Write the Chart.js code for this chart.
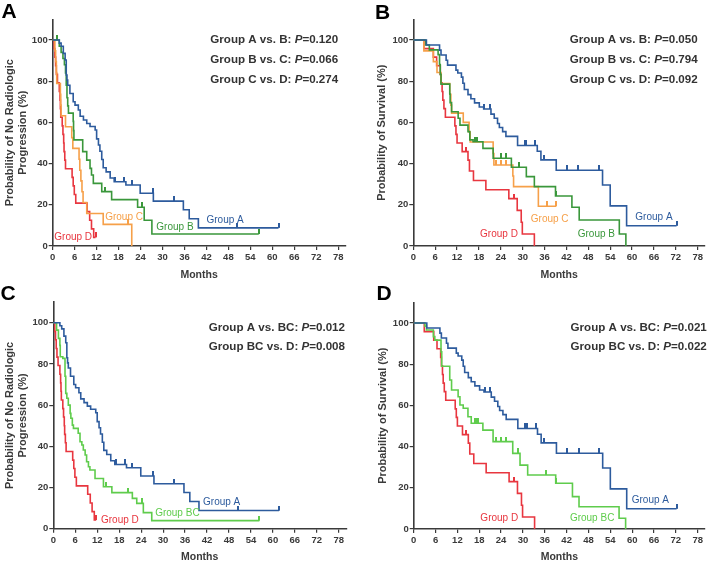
<!DOCTYPE html>
<html>
<head>
<meta charset="utf-8">
<script src="https://cdn.jsdelivr.net/npm/chart.js@4.4.1/dist/chart.umd.min.js"></script>
<style>
  html,body{margin:0;padding:0;background:#fff;}
  #wrap{position:relative;width:709px;height:563px;overflow:hidden;background:#fff;}
  canvas{position:absolute;}
  .lbl{position:absolute;font-family:"Liberation Sans",Arial,sans-serif;font-weight:bold;font-size:21px;line-height:21px;color:#000;}
</style>
</head>
<body>
<div id="wrap">
  <canvas id="cA" width="354" height="281" style="left:0;top:0"></canvas>
  <canvas id="cB" width="355" height="281" style="left:354px;top:0"></canvas>
  <canvas id="cC" width="354" height="282" style="left:0;top:281px"></canvas>
  <canvas id="cD" width="355" height="282" style="left:354px;top:281px"></canvas>
  <div class="lbl" style="left:1.5px;top:0">A</div>
  <div class="lbl" style="left:375px;top:1px">B</div>
  <div class="lbl" style="left:0.5px;top:282px">C</div>
  <div class="lbl" style="left:376.5px;top:282px">D</div>
</div>
<script>
// ---------- axis ticks ----------
const X_TICKS = [0, 6, 12, 18, 24, 30, 36, 42, 48, 54, 60, 66, 72, 78];
const Y_TICKS = [0, 20, 40, 60, 80, 100];

// ---------- progression-free (panels A, C) ----------
const pfsA_t = [0, 1.8, 2.3, 2.9, 3.4, 3.7, 3.9, 4.1, 4.7, 5.6, 6.1, 7.0, 7.5, 8.4, 9.3, 10.2, 11.6, 12.0, 12.5, 12.9, 13.4, 13.8, 14.6, 15.7, 16.8, 20.0, 23.9, 27.5, 35.7, 37.3, 39.8, 61.7];
const pfsA_s = [100, 98.5, 97, 93.5, 90.3, 83, 80.5, 78, 74, 70, 68.4, 66, 63, 61.2, 59.5, 58, 56.3, 52, 49, 46, 42, 38, 36, 33, 31.2, 29.6, 25.6, 21.8, 17.6, 13.2, 8.8, 8.8];
const pfsA_c = [17.0, 19.5, 21.6, 27.3, 33.1, 50.4, 61.7];

const pfsB_t = [0, 1.8, 2.3, 2.8, 3.2, 3.5, 3.7, 3.9, 4.1, 4.3, 5.6, 5.7, 5.8, 8.2, 9.3, 10.2, 10.6, 11.1, 13.4, 16.1, 23.2, 25.0, 27.1, 56.3];
const pfsB_s = [100, 97, 94, 91, 88, 84, 78, 72, 68, 64.5, 60.5, 56, 51.5, 45.8, 41.7, 37.7, 34.5, 30.4, 26.4, 22.5, 18.8, 12.5, 5.8, 5.8];
const pfsB_c = [1.2, 14.3, 24.3, 56.3];

const pfsC_t = [0, 0.6, 0.8, 1.0, 1.1, 2.1, 2.2, 2.3, 3.5, 5.2, 5.5, 7.2, 7.4, 7.7, 8.0, 8.3, 9.3, 13.8, 21.6];
const pfsC_s = [100, 94.7, 89.5, 84.2, 78.9, 73.7, 68.4, 63.2, 57.9, 52.6, 47.4, 42.1, 36.8, 31.6, 26.3, 21.1, 15.8, 10.5, 0];
const pfsC_c = [20.6];

const pfsD_t = [0, 0.4, 0.6, 0.8, 1.0, 1.3, 1.8, 2.0, 2.1, 2.2, 2.6, 2.8, 3.0, 3.1, 3.3, 3.5, 5.3, 5.6, 5.9, 6.3, 9.4, 10.1, 10.6, 11.2, 11.7];
const pfsD_s = [100, 95.8, 91.7, 87.5, 83.3, 79.2, 75, 70.8, 66.7, 62.5, 58.3, 54.2, 50, 45.8, 41.7, 37.5, 33.3, 29.2, 25, 20.8, 16.7, 12.5, 8.3, 4.2, 4.2];
const pfsD_c = [11.7];

const pfsBC_t = [0, 0.9, 1.4, 1.8, 1.9, 2.6, 3.2, 3.4, 3.7, 4.1, 4.6, 4.8, 5.2, 5.5, 6.8, 7.3, 7.8, 8.2, 8.7, 9.1, 9.6, 10.0, 11.4, 13.7, 16.0, 21.6, 22.8, 24.6, 26.9, 56.3];
const pfsBC_s = [100, 96.4, 92.4, 89, 83.5, 82.7, 74, 65.7, 63.3, 60, 56, 53.6, 50.3, 48.7, 46.3, 42.2, 40.6, 38.2, 35.8, 32.5, 30.1, 28.5, 24.4, 20.4, 17.5, 14.7, 12.3, 7.8, 3.9, 3.9];
const pfsBC_c = [14.4, 20.5, 24.1, 56.3];

// ---------- overall survival (panels B, D) ----------
const osA_t = [0, 3.6, 7.2, 7.6, 9.0, 9.4, 11.7, 12.2, 13.2, 13.6, 14.0, 15.0, 15.8, 16.8, 18.1, 19.3, 21.3, 22.2, 23.1, 23.6, 24.5, 25.4, 28.6, 34.0, 35.0, 39.2, 51.9, 54.0, 58.5, 72.2];
const osA_s = [100, 97.6, 95.1, 92.7, 90.2, 87.8, 85.4, 84, 82, 79, 76, 73.5, 71.5, 69.5, 67.5, 66.5, 64, 62, 59.5, 57.5, 55.5, 53.2, 48.8, 46, 41.8, 36.8, 29.6, 19.5, 9.8, 9.8];
const osA_c = [19.5, 20.9, 30.5, 31.0, 33.5, 35.8, 42.2, 45.3, 51.0, 72.2];

const osB_t = [0, 3.4, 4.4, 6.8, 7.2, 7.4, 7.6, 10.0, 10.1, 10.5, 12.3, 12.8, 15.0, 15.5, 16.4, 19.1, 21.9, 26.9, 31.0, 33.2, 39.0, 43.5, 45.5, 56.5, 58.3];
const osB_s = [100, 97.6, 95.2, 92.9, 88.1, 83.3, 78.6, 73.8, 69.6, 65.2, 62, 58.7, 55.5, 51.5, 50.6, 47.4, 42.6, 38.2, 33.7, 28.8, 24.3, 18.8, 12.6, 5.8, 0];
const osB_c = [16.9, 17.4, 24.1, 25.5, 29.1, 39.0];

const osC_t = [0, 2.9, 5.5, 6.5, 7.6, 10.0, 10.3, 10.5, 13.7, 15.3, 15.6, 21.9, 22.1, 27.3, 27.5, 34.3, 39.2];
const osC_s = [100, 94.7, 89.5, 84.2, 78.9, 73.7, 68.4, 64.5, 60, 55.3, 50.5, 44.9, 39.3, 34, 28.8, 19.3, 19.3];
const osC_c = [22.8, 24.1, 25.5, 36.8, 39.2];

const osD_t = [0, 2.9, 5.5, 6.4, 7.4, 7.6, 7.9, 8.1, 8.4, 8.8, 11.4, 11.7, 12.0, 13.4, 15.0, 15.4, 16.5, 19.9, 26.2, 28.5, 29.6, 29.9, 33.2];
const osD_s = [100, 95.8, 91.7, 87.5, 83.3, 79.2, 75, 70.8, 66.7, 62.5, 58.3, 54.2, 50, 45.8, 41.7, 36.4, 31.8, 27.3, 23, 17.3, 11.5, 5.8, 0];
const osD_c = [14.5, 27.5];

const osBC_t = [0, 3.1, 3.5, 5.4, 5.8, 7.5, 7.7, 9.9, 10.4, 12.2, 12.7, 13.6, 14.9, 15.8, 19.0, 21.8, 27.2, 29.2, 31.3, 39.0, 43.6, 45.4, 56.4, 58.2];
const osBC_s = [100, 98.5, 96.6, 93.4, 91.7, 86, 79, 72.3, 67.5, 64.2, 60.2, 58.6, 54.5, 51.3, 48, 42.4, 36.7, 31, 26.2, 22.2, 15.7, 10.8, 5.2, 0];
const osBC_c = [16.8, 17.3, 17.7, 22.7, 24.1, 25.4, 28.6, 36.3, 39.0];

// ---------- comparisons ----------
const cmp4 = ['Group A vs. B: ', 'Group B vs. C: ', 'Group C vs. D: '];
const cmp3 = ['Group A vs. BC: ', 'Group BC vs. D: '];
const pA = ['=0.120', '=0.066', '=0.274'];
const pB = ['=0.050', '=0.794', '=0.092'];
const pC = ['=0.012', '=0.008'];
const pD = ['=0.021', '=0.022'];

// ---------- styles ----------
const BLUE = '#2d5b9d', GREEN = '#3a973b', ORANGE = '#f6a049', RED = '#e8363f', LIME = '#5fcc4c';
const AXC = '#3a3a3a';
const FF = '"Liberation Sans", Arial, Helvetica, sans-serif';

function stepAt(t, s, c) {
  let v = s[0];
  for (let i = 0; i < t.length; i++) if (t[i] <= c + 1e-9) v = s[i];
  return v;
}
function tickImg(color) {
  const c = document.createElement('canvas');
  c.width = 2; c.height = 10;
  const g = c.getContext('2d');
  g.fillStyle = color; g.fillRect(0, 0, 2, 5);
  return c;
}
function curveSets(t, s, cens, color) {
  return [
    { data: t.map((x, i) => ({ x: x, y: s[i] })), borderColor: color, borderWidth: 1.6,
      stepped: 'before', pointRadius: 0, fill: false, clip: false },
    { data: cens.map(c => ({ x: c, y: stepAt(t, s, c) })), showLine: false, borderWidth: 0,
      pointStyle: tickImg(color), pointRadius: 3, backgroundColor: color, borderColor: color, clip: false }
  ];
}
function textPlugin(groups, notes) {
  return {
    id: 'kmText',
    afterDraw(chart) {
      const { ctx } = chart; const x = chart.scales.x, y = chart.scales.y;
      ctx.save();
      ctx.textBaseline = 'middle';
      groups.forEach(g => {
        ctx.font = '10px ' + FF; ctx.fillStyle = g.color; ctx.textAlign = 'center';
        ctx.fillText(g.text, x.getPixelForValue(g.x), y.getPixelForValue(g.y));
      });
      notes.forEach(n => {
        const fN = 'bold 11.6px ' + FF, fI = 'italic bold 11.6px ' + FF;
        ctx.font = fN; const w1 = ctx.measureText(n.a).width, w3 = ctx.measureText(n.c).width;
        ctx.font = fI; const w2 = ctx.measureText('P').width;
        let px = x.getPixelForValue(n.x) - (w1 + w2 + w3);
        const py = y.getPixelForValue(n.y);
        ctx.textAlign = 'left'; ctx.fillStyle = '#333';
        ctx.font = fN; ctx.fillText(n.a, px, py); px += w1;
        ctx.font = fI; ctx.fillText('P', px, py); px += w2;
        ctx.font = fN; ctx.fillText(n.c, px, py);
      });
      ctx.restore();
    }
  };
}
function makeChart(id, geo, datasets, groups, notes, yTitle) {
  const tickFont = { family: FF, size: 9.5, weight: 'bold' };
  new Chart(document.getElementById(id), {
    type: 'line',
    data: { datasets: datasets },
    options: {
      responsive: false, animation: false, devicePixelRatio: 1,
      layout: { padding: { left: 0, top: geo.top, right: geo.right, bottom: 0 } },
      plugins: { legend: { display: false }, tooltip: { enabled: false } },
      scales: {
        x: {
          type: 'linear', min: 0, max: 80,
          afterBuildTicks: s => { s.ticks = X_TICKS.map(v => ({ value: v })); },
          afterFit: s => { s.height = geo.xh; },
          ticks: { font: tickFont, color: AXC, padding: 2, maxRotation: 0, autoSkip: false },
          grid: { drawOnChartArea: false, drawTicks: true, tickLength: 4, color: AXC, lineWidth: 1.2 },
          border: { display: true, color: AXC, width: 1.6 },
          title: { display: true, text: 'Months', color: AXC, font: { family: FF, size: 10.5, weight: 'bold' }, padding: { top: 0, bottom: 0 } }
        },
        y: {
          type: 'linear', min: 0, max: 110,
          afterBuildTicks: s => { s.ticks = Y_TICKS.map(v => ({ value: v })); },
          afterFit: s => { s.width = geo.yw; },
          ticks: { font: tickFont, color: AXC, padding: 1 },
          grid: { drawOnChartArea: false, drawTicks: true, tickLength: 4, color: AXC, lineWidth: 1.2 },
          border: { display: true, color: AXC, width: 1.6 },
          title: { display: true, text: yTitle, color: AXC, font: { family: FF, size: 11, weight: 'bold' }, padding: { top: geo.tp, bottom: 0 } }
        }
      }
    },
    plugins: [textPlugin(groups, notes)]
  });
}

const titlePFS = ['Probability of No Radiologic', 'Progression (%)'];
const titleOS = 'Probability of Survival (%)';

// Panel A
makeChart('cA', { top: 19.4, right: 8.5, xh: 35, yw: 52.7, tp: 3 },
  [].concat(curveSets(pfsA_t, pfsA_s, pfsA_c, BLUE), curveSets(pfsB_t, pfsB_s, pfsB_c, GREEN),
            curveSets(pfsC_t, pfsC_s, pfsC_c, ORANGE), curveSets(pfsD_t, pfsD_s, pfsD_c, RED)),
  [{ text: 'Group A', x: 47.1, y: 12.6, color: BLUE }, { text: 'Group B', x: 33.4, y: 9.2, color: GREEN },
   { text: 'Group C', x: 19.5, y: 14.1, color: ORANGE }, { text: 'Group D', x: 5.6, y: 4.4, color: RED }],
  cmp4.map((c, i) => ({ a: c, c: pA[i], x: 78, y: [99.9, 90.3, 80.6][i] })), titlePFS);

// Panel B
makeChart('cB', { top: 19.4, right: 2.9, xh: 35, yw: 59.3, tp: 21.1 },
  [].concat(curveSets(osA_t, osA_s, osA_c, BLUE), curveSets(osB_t, osB_s, osB_c, GREEN),
            curveSets(osC_t, osC_s, osC_c, ORANGE), curveSets(osD_t, osD_s, osD_c, RED)),
  [{ text: 'Group A', x: 66, y: 14.1, color: BLUE }, { text: 'Group C', x: 37.4, y: 13.1, color: ORANGE },
   { text: 'Group B', x: 50.2, y: 5.6, color: GREEN }, { text: 'Group D', x: 23.5, y: 5.6, color: RED }],
  cmp4.map((c, i) => ({ a: c, c: pB[i], x: 78, y: [99.9, 90.3, 80.6][i] })), titleOS);

// Panel C
makeChart('cC', { top: 21.1, right: 7.9, xh: 34.3, yw: 53.3, tp: 3 },
  [].concat(curveSets(pfsA_t, pfsA_s, pfsA_c, BLUE), curveSets(pfsBC_t, pfsBC_s, pfsBC_c, LIME),
            curveSets(pfsD_t, pfsD_s, pfsD_c, RED)),
  [{ text: 'Group A', x: 46, y: 13, color: BLUE }, { text: 'Group BC', x: 33.9, y: 7.3, color: LIME },
   { text: 'Group D', x: 18.2, y: 4, color: RED }],
  cmp3.map((c, i) => ({ a: c, c: pC[i], x: 79.7, y: [97.6, 88.3][i] })), titlePFS);

// Panel D
makeChart('cD', { top: 21.4, right: 2.5, xh: 34, yw: 59.7, tp: 21.9 },
  [].concat(curveSets(osA_t, osA_s, osA_c, BLUE), curveSets(osBC_t, osBC_s, osBC_c, LIME),
            curveSets(osD_t, osD_s, osD_c, RED)),
  [{ text: 'Group A', x: 65, y: 13.8, color: BLUE }, { text: 'Group BC', x: 49, y: 5.4, color: LIME },
   { text: 'Group D', x: 23.5, y: 5.4, color: RED }],
  cmp3.map((c, i) => ({ a: c, c: pD[i], x: 80.5, y: [97.7, 88.5][i] })), titleOS);
</script>
</body>
</html>
